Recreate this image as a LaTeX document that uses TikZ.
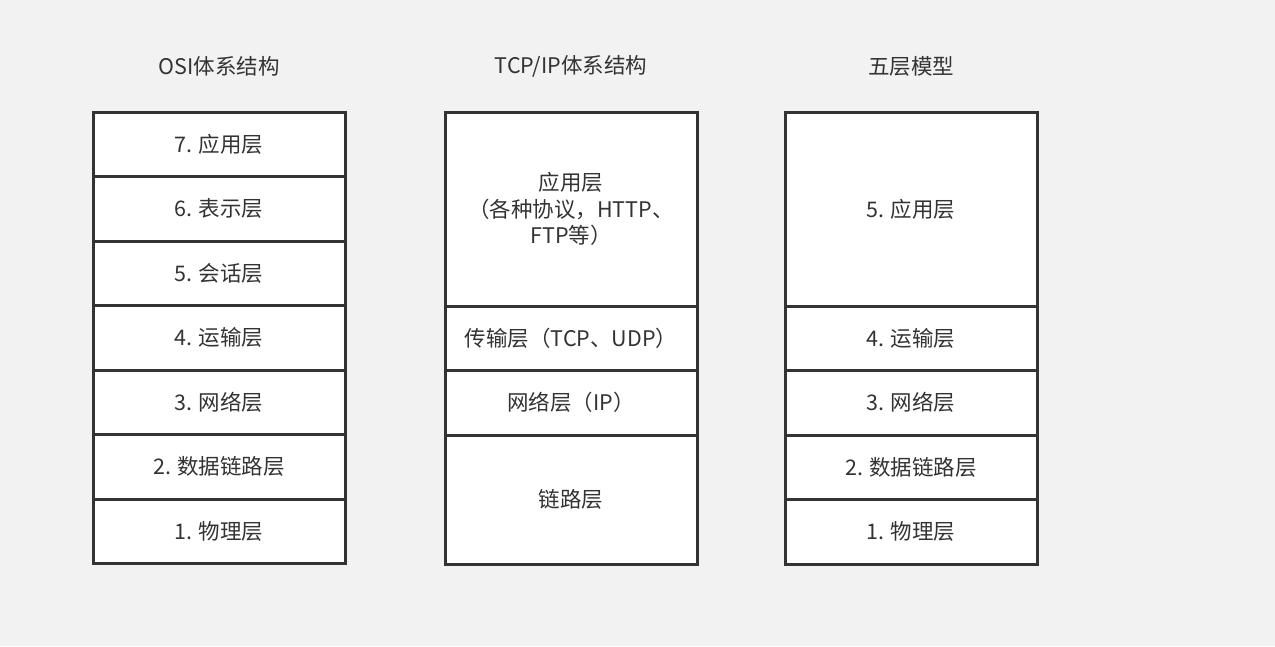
\documentclass[tikz,border=0pt]{standalone}
\usepackage{fontspec}
\newfontfamily\cjk{Noto Sans CJK SC}
\usepackage{tikz}
\usetikzlibrary{positioning}
\definecolor{bggray}{HTML}{F2F2F2}
\definecolor{linegray}{HTML}{333333}

\begin{document}
\begin{tikzpicture}[x=1pt, y=-1pt,
    every node/.style={font=\cjk\fontsize{21.5}{26.5}\selectfont, text=linegray, align=center},
    layer/.style={rectangle, draw=linegray, line width=3pt, fill=white, minimum width=252pt, minimum height=64.5pt, outer sep=0pt, inner sep=0pt},
    node distance=0pt]
  \fill[bggray] (0,0) rectangle (1275,646);
  \useasboundingbox (0,0) rectangle (1275,646);

  % OSI
  \node at (219,66) (osititle) {OSI体系结构};
  \node[layer, anchor=north] at (219,112) (osi7) {7. 应用层};
  \node[layer, below=of osi7] (osi6) {6. 表示层};
  \node[layer, below=of osi6] (osi5) {5. 会话层};
  \node[layer, below=of osi5] (osi4) {4. 运输层};
  \node[layer, below=of osi4] (osi3) {3. 网络层};
  \node[layer, below=of osi3] (osi2) {2. 数据链路层};
  \node[layer, below=of osi2] (osi1) {1. 物理层};

  % TCP/IP
  \node at (571,66) (tcptitle) {TCP/IP体系结构};
  \node[layer, anchor=north, minimum height=194pt] at (571,112) (tcpapp) {应用层\\（各种协议，HTTP、\\FTP等）};
  \node[layer, below=of tcpapp] (tcptrans) {传输层（TCP、UDP）};
  \node[layer, below=of tcptrans] (tcpnet) {网络层（IP）};
  \node[layer, below=of tcpnet, minimum height=129pt] (tcplink) {链路层};

  % five layers
  \node at (911,66) (fivetitle) {五层模型};
  \node[layer, anchor=north, minimum height=194pt] at (911,112) (five5) {5. 应用层};
  \node[layer, below=of five5] (five4) {4. 运输层};
  \node[layer, below=of five4] (five3) {3. 网络层};
  \node[layer, below=of five3] (five2) {2. 数据链路层};
  \node[layer, below=of five2] (five1) {1. 物理层};
\end{tikzpicture}
\end{document}
